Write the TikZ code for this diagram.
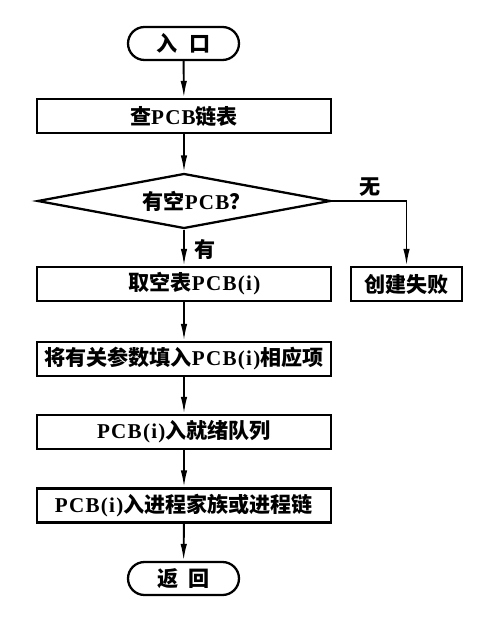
\documentclass[tikz,border=0pt]{standalone}
\usepackage{fontspec}
\setmainfont{Liberation Serif}[LetterSpace=6]
\newfontfamily\cjk{Noto Sans CJK SC}
\newcommand\zh[1]{{\cjk\bfseries #1}}
\usetikzlibrary{shapes.geometric,arrows.meta}
\begin{document}
\begin{tikzpicture}[x=0.02cm,y=-0.02cm,
  base/.style={draw,line width=1.3pt,font=\fontsize{12pt}{14pt}\selectfont\bfseries,inner sep=0pt},
  term/.style={base,minimum width=2.22cm,minimum height=0.66cm,rounded corners=0.33cm},
  proc/.style={base,minimum width=5.88cm,minimum height=0.68cm},
  small/.style={base,minimum width=2.22cm,minimum height=0.68cm},
  dec/.style={base,diamond,aspect=5.3,minimum width=5.86cm,minimum height=1.1cm},
  flow/.style={line width=1.1pt,-{Latex[length=0.34cm,width=0.13cm]}},
  lbl/.style={font=\fontsize{12pt}{14pt}\selectfont\bfseries}
]
\useasboundingbox (0,0) rectangle (502,624);
\node[term] (entry) at (183.5,43.5) {\zh{入\hspace{0.6em}口}};
\node[proc] (b1) at (184,116) {\zh{查}PCB\zh{链表}};
\node[dec] (dia) at (184,201) {\hspace{1.2em}\zh{有空}PCB\zh{？}};
\node[proc] (b2) at (184,284) {\hspace{1em}\zh{取空表}PCB(i)};
\node[small] (fail) at (406.5,284) {\zh{创建失败}};
\node[proc] (b3) at (184,359) {\zh{将有关参数填入}PCB(i)\zh{相应项}};
\node[proc] (b4) at (184,432) {PCB(i)\zh{入就绪队列}};
\node[proc] (b5) at (184,505.5) {PCB(i)\zh{入进程家族或进程链}};
\node[term] (ret) at (183.5,578.5) {\zh{返\hspace{0.5em}回}};
\draw[flow] (entry) -- (b1);
\draw[flow] (b1) -- (dia);
\draw[flow] (dia) -- (b2);
\draw[flow] (dia.east) -| (fail.north);
\draw[flow] (b2) -- (b3);
\draw[flow] (b3) -- (b4);
\draw[flow] (b4) -- (b5);
\draw[flow] (b5) -- (ret);
\node[lbl] (yes) at (205,250) {\zh{有}};
\node[lbl] (no) at (370,187) {\zh{无}};
\end{tikzpicture}
\end{document}
